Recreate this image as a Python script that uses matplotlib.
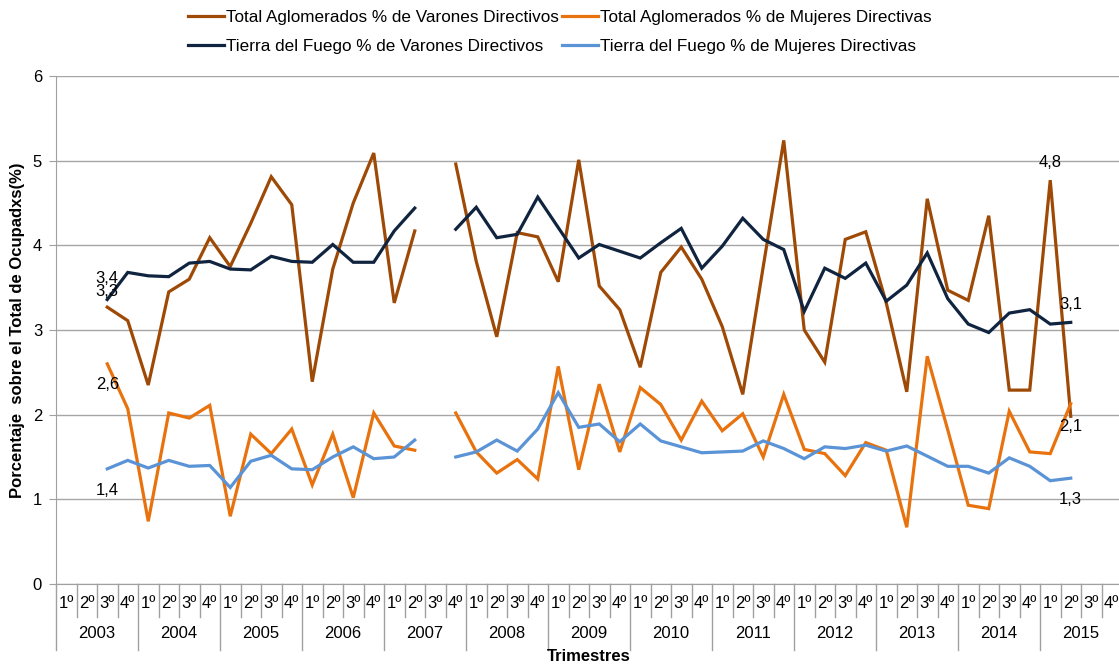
import numpy as np
import matplotlib.pyplot as plt
from matplotlib.transforms import blended_transform_factory

plt.rcParams['font.family'] = ['Liberation Sans', 'DejaVu Sans']

years = [str(y) for y in range(2003, 2016)]
quarters = ['1º', '2º', '3º', '4º']

# valores por trimestre (2003 1º ... 2015 4º), None = sin dato
total_varones = [None, None, 3.27, 3.11,
                 2.35, 3.45, 3.60, 4.09,
                 3.75, 4.26, 4.81, 4.48,
                 2.39, 3.72, 4.50, 5.09,
                 3.32, 4.17, None, 4.96,
                 3.81, 2.92, 4.15, 4.10,
                 3.57, 5.01, 3.52, 3.24,
                 2.56, 3.68, 3.98, 3.60,
                 3.04, 2.24, 3.75, 5.24,
                 3.00, 2.62, 4.07, 4.16,
                 3.32, 2.27, 4.55, 3.47,
                 3.35, 4.35, 2.29, 2.29,
                 4.77, 1.98, None, None]

total_mujeres = [None, None, 2.60, 2.07,
                 0.74, 2.02, 1.96, 2.11,
                 0.80, 1.77, 1.54, 1.83,
                 1.17, 1.77, 1.02, 2.02,
                 1.63, 1.58, None, 2.02,
                 1.56, 1.31, 1.47, 1.24,
                 2.57, 1.35, 2.36, 1.56,
                 2.32, 2.12, 1.70, 2.16,
                 1.81, 2.01, 1.50, 2.24,
                 1.59, 1.54, 1.28, 1.67,
                 1.58, 0.67, 2.69, 1.82,
                 0.93, 0.89, 2.04, 1.56,
                 1.54, 2.13, None, None]

tdf_varones = [None, None, 3.36, 3.68,
               3.64, 3.63, 3.79, 3.81,
               3.72, 3.71, 3.87, 3.81,
               3.80, 4.01, 3.80, 3.80,
               4.17, 4.44, None, 4.19,
               4.45, 4.09, 4.13, 4.57,
               4.21, 3.85, 4.01, 3.93,
               3.85, 4.03, 4.20, 3.73,
               3.99, 4.32, 4.07, 3.95,
               3.22, 3.73, 3.61, 3.79,
               3.34, 3.53, 3.91, 3.37,
               3.07, 2.97, 3.20, 3.24,
               3.07, 3.09, None, None]

tdf_mujeres = [None, None, 1.36, 1.46,
               1.37, 1.46, 1.39, 1.40,
               1.14, 1.45, 1.52, 1.36,
               1.35, 1.50, 1.62, 1.48,
               1.50, 1.70, None, 1.50,
               1.56, 1.70, 1.57, 1.83,
               2.26, 1.85, 1.89, 1.68,
               1.89, 1.69, 1.62, 1.55,
               1.56, 1.57, 1.69, 1.60,
               1.48, 1.62, 1.60, 1.64,
               1.57, 1.63, 1.51, 1.39,
               1.39, 1.31, 1.49, 1.39,
               1.22, 1.25, None, None]

series = [
    ('Total Aglomerados % de Varones Directivos', total_varones, '#9E4A06'),
    ('Total Aglomerados % de Mujeres Directivas', total_mujeres, '#E8730E'),
    ('Tierra del Fuego % de Varones Directivos', tdf_varones, '#10243F'),
    ('Tierra del Fuego % de Mujeres Directivas', tdf_mujeres, '#5A93D6'),
]

fig = plt.figure(figsize=(11.19, 6.65), dpi=100)
W, H = 1119, 665
ax = fig.add_axes([56 / W, (H - 584) / H, 1066 / W, 508 / H])

n = len(years) * len(quarters)
x = np.arange(n)
handles = []
for label, vals, color in series:
    y = np.array([np.nan if v is None else v for v in vals], dtype=float)
    ln, = ax.plot(x, y, color=color, lw=2.3, solid_joinstyle='miter', label=label)
    handles.append(ln)

ax.set_xlim(-0.5, n - 0.5)
ax.set_ylim(0, 6)
ax.set_yticks(range(7))
ax.yaxis.grid(True, color='#A6A6A6', lw=1)
ax.set_axisbelow(True)
ax.set_xticks([])
for s in ['top', 'right']:
    ax.spines[s].set_visible(False)
for s in ['left', 'bottom']:
    ax.spines[s].set_color('#A0A0A0')
ax.tick_params(axis='y', colors='#A0A0A0', labelcolor='black', labelsize=12, length=5, pad=5)

# etiquetas de datos
def lab(vals, i, text, dy):
    ax.annotate(text, (i, vals[i]), xytext=(0, dy), textcoords='offset pixels',
                ha='center', va='center', fontsize=12)

lab(tdf_varones, 2, '3,4', 21)
lab(total_varones, 2, '3,3', 16)
lab(total_mujeres, 2, '2,6', -21)
lab(tdf_mujeres, 2, '1,4', -22)
lab(total_varones, 48, '4,8', 18)
lab(tdf_varones, 49, '3,1', 18)
lab(total_mujeres, 49, '2,1', -23)
lab(tdf_mujeres, 49, '1,3', -21)

# eje x en dos niveles (trimestre / año)
tr = blended_transform_factory(ax.transData, ax.transAxes)
for i in range(n):
    ax.text(i, -0.039, quarters[i % 4], transform=tr, ha='center', va='center', fontsize=12)
for i in range(n + 1):
    bottom = -0.13 if i % 4 == 0 else -0.065
    ax.plot([i - 0.5, i - 0.5], [0, bottom], transform=tr, color='#A0A0A0', lw=1, clip_on=False)
for k, yr in enumerate(years):
    ax.text(4 * k + 1.5, -0.098, yr, transform=tr, ha='center', va='center', fontsize=12)

ax.text(0.5, -0.142, 'Trimestres', transform=ax.transAxes, ha='center', va='center',
        fontsize=12, fontweight='bold')
fig.text(18 / W, 1 - 330 / H, 'Porcentaje  sobre el Total de Ocupadxs(%)', rotation=90,
         ha='center', va='center', fontsize=12, fontweight='bold')

order = [handles[0], handles[2], handles[1], handles[3]]
fig.legend(order, [h.get_label() for h in order], ncol=2, loc='upper center',
           bbox_to_anchor=(560 / W, 1.005), frameon=False, fontsize=12.3,
           handlelength=2.1, handletextpad=0.1, columnspacing=0.2, labelspacing=0.8,
           borderpad=0.3)

fig.savefig('out.png', dpi=100)
